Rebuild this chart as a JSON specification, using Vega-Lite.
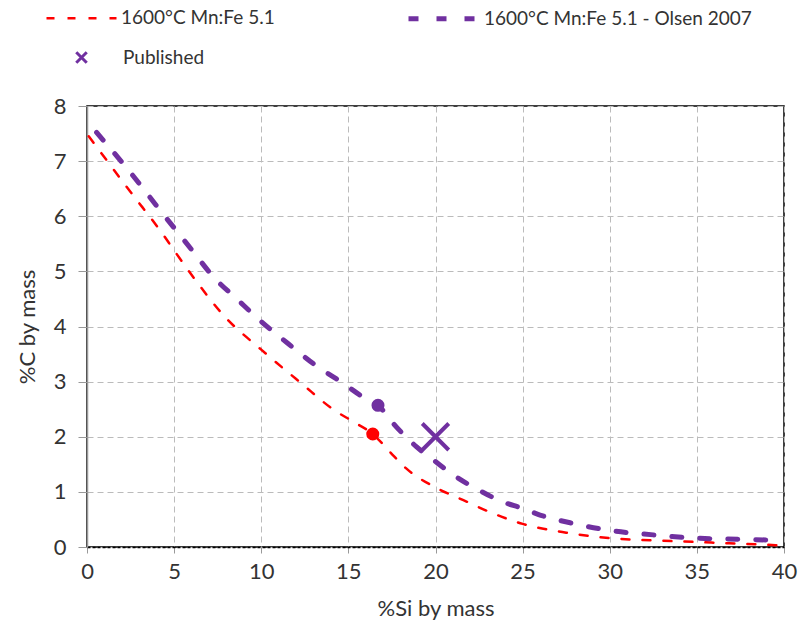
{
  "$schema": "https://vega.github.io/schema/vega-lite/v6.json",
  "width": 697,
  "height": 441,
  "autosize": {"type": "none"},
  "padding": {"left": 87, "top": 106, "right": 20, "bottom": 93},
  "background": "white",
  "config": {
    "font": "Lato",
    "view": {"stroke": "#000000", "strokeWidth": 1.5},
    "axis": {
      "labelFont": "Lato",
      "titleFont": "Lato",
      "labelFontSize": 22,
      "titleFontSize": 22,
      "titleFontWeight": "normal",
      "labelColor": "#333333",
      "titleColor": "#333333",
      "gridColor": "#bbbbbb",
      "gridDash": [6, 4],
      "gridWidth": 1,
      "tickColor": "#999999",
      "labelOverlap": false,
      "labelFlush": false,
      "labelBound": false
    },
    "legend": {
      "labelFont": "Lato",
      "labelFontSize": 19,
      "labelColor": "#333333",
      "labelLimit": 500,
      "padding": 0,
      "offset": 0
    }
  },
  "datasets": {
    "curves": [
      {"series": "1600°C Mn:Fe 5.1", "si": 0.1, "c": 7.45},
      {"series": "1600°C Mn:Fe 5.1", "si": 2.5, "c": 6.44},
      {"series": "1600°C Mn:Fe 5.1", "si": 4.34, "c": 5.68},
      {"series": "1600°C Mn:Fe 5.1", "si": 5, "c": 5.38},
      {"series": "1600°C Mn:Fe 5.1", "si": 6.23, "c": 4.84},
      {"series": "1600°C Mn:Fe 5.1", "si": 7.9, "c": 4.18},
      {"series": "1600°C Mn:Fe 5.1", "si": 10, "c": 3.58},
      {"series": "1600°C Mn:Fe 5.1", "si": 12.3, "c": 2.97},
      {"series": "1600°C Mn:Fe 5.1", "si": 14.2, "c": 2.48},
      {"series": "1600°C Mn:Fe 5.1", "si": 15.3, "c": 2.27},
      {"series": "1600°C Mn:Fe 5.1", "si": 16.4, "c": 2.05},
      {"series": "1600°C Mn:Fe 5.1", "si": 17.4, "c": 1.72},
      {"series": "1600°C Mn:Fe 5.1", "si": 18.3, "c": 1.43},
      {"series": "1600°C Mn:Fe 5.1", "si": 20, "c": 1.08},
      {"series": "1600°C Mn:Fe 5.1", "si": 21.6, "c": 0.85},
      {"series": "1600°C Mn:Fe 5.1", "si": 23.3, "c": 0.61},
      {"series": "1600°C Mn:Fe 5.1", "si": 25, "c": 0.42},
      {"series": "1600°C Mn:Fe 5.1", "si": 27.5, "c": 0.26},
      {"series": "1600°C Mn:Fe 5.1", "si": 30, "c": 0.16},
      {"series": "1600°C Mn:Fe 5.1", "si": 32.5, "c": 0.12},
      {"series": "1600°C Mn:Fe 5.1", "si": 35, "c": 0.09},
      {"series": "1600°C Mn:Fe 5.1", "si": 37.5, "c": 0.06},
      {"series": "1600°C Mn:Fe 5.1", "si": 39.8, "c": 0.03},
      {"series": "1600°C Mn:Fe 5.1 - Olsen 2007", "si": 0.55, "c": 7.52},
      {"series": "1600°C Mn:Fe 5.1 - Olsen 2007", "si": 2.5, "c": 6.79},
      {"series": "1600°C Mn:Fe 5.1 - Olsen 2007", "si": 4.34, "c": 6.05},
      {"series": "1600°C Mn:Fe 5.1 - Olsen 2007", "si": 6.04, "c": 5.38},
      {"series": "1600°C Mn:Fe 5.1 - Olsen 2007", "si": 7.2, "c": 4.92},
      {"series": "1600°C Mn:Fe 5.1 - Olsen 2007", "si": 8.7, "c": 4.47},
      {"series": "1600°C Mn:Fe 5.1 - Olsen 2007", "si": 10, "c": 4.09},
      {"series": "1600°C Mn:Fe 5.1 - Olsen 2007", "si": 11.5, "c": 3.7},
      {"series": "1600°C Mn:Fe 5.1 - Olsen 2007", "si": 13.1, "c": 3.3},
      {"series": "1600°C Mn:Fe 5.1 - Olsen 2007", "si": 14.7, "c": 2.97},
      {"series": "1600°C Mn:Fe 5.1 - Olsen 2007", "si": 15.7, "c": 2.75},
      {"series": "1600°C Mn:Fe 5.1 - Olsen 2007", "si": 16.7, "c": 2.57},
      {"series": "1600°C Mn:Fe 5.1 - Olsen 2007", "si": 17.75, "c": 2.18},
      {"series": "1600°C Mn:Fe 5.1 - Olsen 2007", "si": 18.9, "c": 1.82},
      {"series": "1600°C Mn:Fe 5.1 - Olsen 2007", "si": 20, "c": 1.55},
      {"series": "1600°C Mn:Fe 5.1 - Olsen 2007", "si": 21.2, "c": 1.27},
      {"series": "1600°C Mn:Fe 5.1 - Olsen 2007", "si": 22.5, "c": 1.03},
      {"series": "1600°C Mn:Fe 5.1 - Olsen 2007", "si": 23.85, "c": 0.82},
      {"series": "1600°C Mn:Fe 5.1 - Olsen 2007", "si": 25, "c": 0.7},
      {"series": "1600°C Mn:Fe 5.1 - Olsen 2007", "si": 26, "c": 0.58},
      {"series": "1600°C Mn:Fe 5.1 - Olsen 2007", "si": 28, "c": 0.42},
      {"series": "1600°C Mn:Fe 5.1 - Olsen 2007", "si": 30, "c": 0.3},
      {"series": "1600°C Mn:Fe 5.1 - Olsen 2007", "si": 32.5, "c": 0.22},
      {"series": "1600°C Mn:Fe 5.1 - Olsen 2007", "si": 35, "c": 0.16},
      {"series": "1600°C Mn:Fe 5.1 - Olsen 2007", "si": 37.5, "c": 0.14},
      {"series": "1600°C Mn:Fe 5.1 - Olsen 2007", "si": 39.8, "c": 0.12}
    ],
    "dots": [
      {"series": "1600°C Mn:Fe 5.1", "si": 16.4, "c": 2.05},
      {"series": "1600°C Mn:Fe 5.1 - Olsen 2007", "si": 16.7, "c": 2.57}
    ],
    "published": [
      {"label": "Published", "si": 20, "c": 2.0}
    ]
  },
  "encoding": {
    "x": {
      "field": "si", "type": "quantitative",
      "scale": {"domain": [0, 40], "nice": false, "zero": false},
      "axis": {
        "title": "%Si by mass",
        "values": [0, 5, 10, 15, 20, 25, 30, 35, 40],
        "tickSize": 6,
        "labelPadding": 8,
        "titlePadding": 16,
        "domainColor": "#000000",
        "domainWidth": 1.5,
        "domainDash": [3, 2]
      }
    },
    "y": {
      "field": "c", "type": "quantitative",
      "scale": {"domain": [0, 8], "nice": false},
      "axis": {
        "title": "%C by mass",
        "values": [0, 1, 2, 3, 4, 5, 6, 7, 8],
        "tickSize": 9,
        "labelPadding": 12,
        "titlePadding": 14,
        "domainColor": "#999999",
        "domainWidth": 1.5
      }
    }
  },
  "layer": [
    {
      "data": {"name": "curves"},
      "mark": {"type": "line", "interpolate": "monotone", "strokeCap": "round"},
      "encoding": {
        "color": {
          "field": "series", "type": "nominal",
          "scale": {"domain": ["1600°C Mn:Fe 5.1", "1600°C Mn:Fe 5.1 - Olsen 2007"], "range": ["#FF0000", "#7030A0"]},
          "legend": {
            "title": null, "orient": "none", "legendX": -42, "legendY": -125, "direction": "horizontal",
            "symbolType": "stroke", "symbolSize": 4900, "columnPadding": 123, "labelOffset": 3
          }
        },
        "strokeDash": {
          "field": "series", "type": "nominal",
          "scale": {"domain": ["1600°C Mn:Fe 5.1", "1600°C Mn:Fe 5.1 - Olsen 2007"], "range": [[8, 13], [10, 18]]},
          "legend": {
            "title": null, "orient": "none", "legendX": -42, "legendY": -125, "direction": "horizontal",
            "symbolType": "stroke", "symbolSize": 4900, "columnPadding": 123, "labelOffset": 3
          }
        },
        "strokeWidth": {
          "field": "series", "type": "nominal",
          "scale": {"domain": ["1600°C Mn:Fe 5.1", "1600°C Mn:Fe 5.1 - Olsen 2007"], "range": [2.5, 5]},
          "legend": {
            "title": null, "orient": "none", "legendX": -42, "legendY": -125, "direction": "horizontal",
            "symbolType": "stroke", "symbolSize": 4900, "columnPadding": 123, "labelOffset": 3
          }
        }
      }
    },
    {
      "data": {"name": "dots"},
      "transform": [{"filter": "datum.series === '1600°C Mn:Fe 5.1'"}],
      "mark": {"type": "circle", "size": 170, "color": "#FF0000", "opacity": 1}
    },
    {
      "data": {"name": "dots"},
      "transform": [{"filter": "datum.series === '1600°C Mn:Fe 5.1 - Olsen 2007'"}],
      "mark": {"type": "circle", "size": 170, "color": "#7030A0", "opacity": 1}
    },
    {
      "data": {"name": "published"},
      "mark": {"type": "point", "filled": false, "size": 700, "strokeWidth": 4, "color": "#7030A0", "opacity": 1},
      "encoding": {
        "shape": {
          "field": "label", "type": "nominal",
          "scale": {"domain": ["Published"], "range": ["M-1,-1L1,1M-1,1L1,-1"]},
          "legend": {
            "title": null, "orient": "none", "legendX": -15, "legendY": -58,
            "symbolStrokeColor": "#7030A0", "symbolFillColor": "transparent", "symbolStrokeWidth": 3,
            "symbolSize": 110,
            "labelOffset": 32
          }
        }
      }
    }
  ]
}
